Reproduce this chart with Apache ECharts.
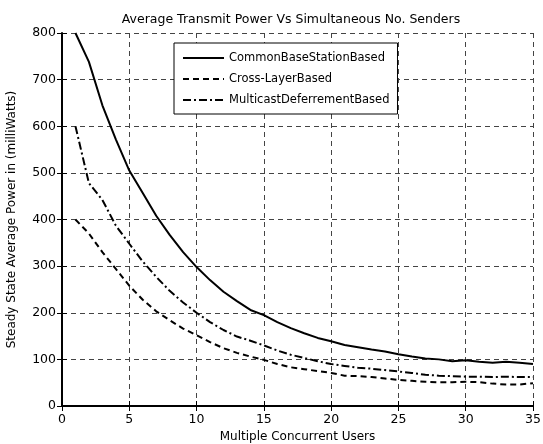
<!DOCTYPE html>
<html>
<head>
<meta charset="utf-8">
<script src="https://cdn.jsdelivr.net/npm/echarts@6/dist/echarts.min.js"></script>
<style>
  html, body { margin: 0; padding: 0; background: #fff; }
  #main { width: 543px; height: 444px; }
</style>
</head>
<body>
<div id="main"></div>
<script>
  // users 1..35
  var users = [];
  for (var i = 1; i <= 35; i++) users.push(i);

  var commonBase = [800, 738, 645, 572, 505, 457, 408, 367, 330, 298,
    270, 245, 225, 206, 195, 180, 167, 156, 146, 139,
    131, 126, 121, 117, 111, 106, 102, 100, 96, 98,
    95, 93, 95, 93, 90];
  var crossLayer = [400, 370, 330, 294, 258, 228, 203, 184, 166, 152,
    137, 124, 114, 106, 99, 90, 83, 79, 75, 71,
    65, 64, 62, 59, 56, 54, 52, 51, 51, 52,
    51, 48, 46, 46, 49];
  var multicast = [600, 478, 442, 387, 348, 310, 277, 247, 222, 200,
    180, 163, 149, 140, 130, 119, 110, 103, 96, 90,
    86, 82, 80, 77, 74, 71, 67, 65, 64, 63,
    63, 62, 63, 62, 62];

  var seriesNames = ['CommonBaseStationBased', 'Cross-LayerBased', 'MulticastDeferrementBased'];

  function pairs(ys) {
    return ys.map(function (v, k) { return [users[k], v]; });
  }

  var font = 'DejaVu Sans';
  var gridLine = {show: true, lineStyle: {color: '#444', width: 1, type: [5, 4]}};

  var chart = echarts.init(document.getElementById('main'));
  chart.setOption({
    animation: false,
    textStyle: {fontFamily: font, color: '#000'},
    title: {
      text: 'Average Transmit Power Vs Simultaneous No. Senders',
      left: 286, top: 8, textAlign: 'center',
      textStyle: {fontSize: 12.5, fontWeight: 'normal', color: '#000', fontFamily: font}
    },
    grid: {left: 62, right: 10, top: 33, bottom: 38, outerBoundsMode: 'none'},
    legend: {
      orient: 'vertical', left: 174, top: 43,
      itemWidth: 41, itemHeight: 14, itemGap: 9,
      padding: [9, 8, 8, 8],
      borderColor: '#000', borderWidth: 1, backgroundColor: '#fff',
      itemStyle: {opacity: 0},
      textStyle: {fontSize: 11.5, color: '#000', fontFamily: font},
      data: seriesNames
    },
    xAxis: [{
      type: 'value', min: 0, max: 35, interval: 5,
      name: 'Multiple Concurrent Users', nameLocation: 'middle', nameGap: 24,
      nameTextStyle: {fontSize: 12, color: '#000'},
      axisLine: {show: true, onZero: false, lineStyle: {color: '#000', width: 2}},
      axisTick: {show: true, inside: true, length: 5, lineStyle: {color: '#000'}},
      axisLabel: {fontSize: 12.5, color: '#000', margin: 7},
      splitLine: gridLine
    }, {
      type: 'value', min: 0, max: 35, interval: 5, position: 'top',
      axisLine: {show: false},
      axisTick: {show: true, inside: true, length: 5, lineStyle: {color: '#000'}},
      axisLabel: {show: false},
      splitLine: {show: false}
    }],
    yAxis: [{
      type: 'value', min: 0, max: 800, interval: 100,
      name: 'Steady State Average Power in (milliWatts)', nameLocation: 'middle', nameGap: 44,
      nameTextStyle: {fontSize: 12, color: '#000'},
      axisLine: {show: true, onZero: false, lineStyle: {color: '#000', width: 2}},
      axisTick: {show: true, inside: true, length: 5, lineStyle: {color: '#000'}},
      axisLabel: {fontSize: 12.5, color: '#000', margin: 6},
      splitLine: gridLine
    }, {
      type: 'value', min: 0, max: 800, interval: 100, position: 'right',
      axisLine: {show: false},
      axisTick: {show: true, inside: true, length: 5, lineStyle: {color: '#000'}},
      axisLabel: {show: false},
      splitLine: {show: false}
    }],
    series: [
      {
        name: seriesNames[0], type: 'line', symbol: 'none',
        lineStyle: {color: '#000', width: 2, type: 'solid'},
        itemStyle: {color: '#000'},
        data: pairs(commonBase)
      },
      {
        name: seriesNames[1], type: 'line', symbol: 'none',
        lineStyle: {color: '#000', width: 2, type: [6, 4]},
        itemStyle: {color: '#000'},
        data: pairs(crossLayer)
      },
      {
        name: seriesNames[2], type: 'line', symbol: 'none',
        lineStyle: {color: '#000', width: 2, type: [8, 3, 2, 3]},
        itemStyle: {color: '#000'},
        data: pairs(multicast)
      }
    ]
  });
</script>
</body>
</html>
